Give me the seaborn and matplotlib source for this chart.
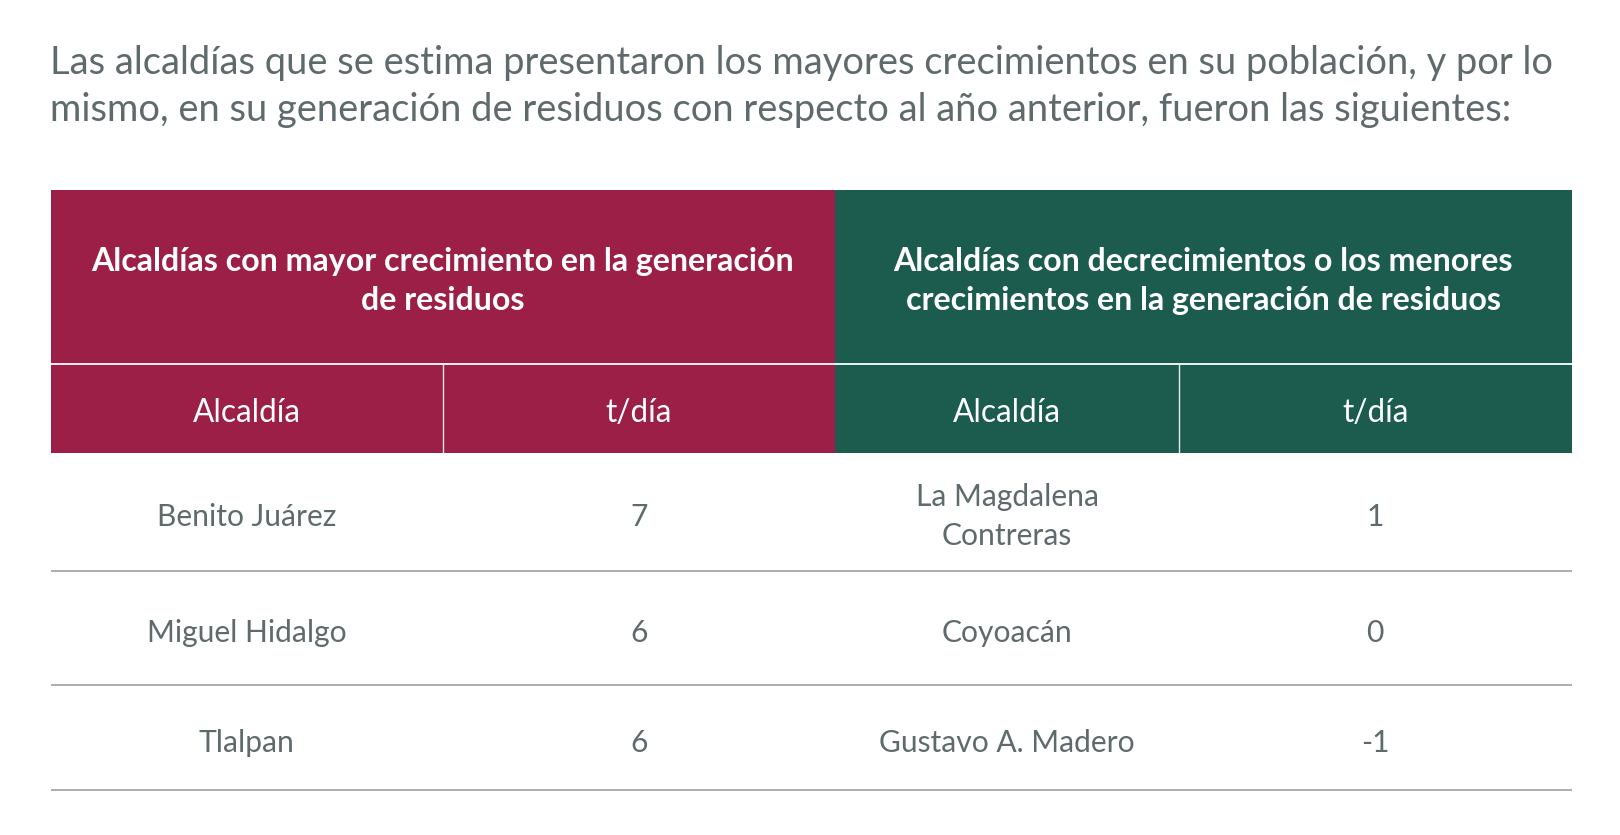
import matplotlib
matplotlib.use("Agg")
import matplotlib.pyplot as plt
from matplotlib.patches import Rectangle
import seaborn as sns

# ---------------- data ----------------
title_lines = [
    "Las alcaldías que se estima presentaron los mayores crecimientos en su población, y por lo",
    "mismo, en su generación de residuos con respecto al año anterior, fueron las siguientes:",
]
group_headers = [
    "Alcaldías con mayor crecimiento en la generación\nde residuos",
    "Alcaldías con decrecimientos o los menores\ncrecimientos en la generación de residuos",
]
col_headers = ["Alcaldía", "t/día", "Alcaldía", "t/día"]
mayor_alcaldias = ["Benito Juárez", "Miguel Hidalgo", "Tlalpan"]
mayor_t = [7, 6, 6]
menor_alcaldias = ["La Magdalena\nContreras", "Coyoacán", "Gustavo A. Madero"]
menor_t = [1, 0, -1]

# ---------------- style ----------------
sns.set_theme(style="white")
FONT = "Lato"
plt.rcParams["font.family"] = [FONT, "DejaVu Sans"]

MAROON = "#9B1F46"
GREEN = "#1B5C4F"
TEXT = "#5F6A6C"
LINE = "#A3A7A8"

W, H = 1620, 835
fig = plt.figure(figsize=(W / 100, H / 100), dpi=100)
ax = fig.add_axes([0, 0, 1, 1])
ax.set_xlim(0, W)
ax.set_ylim(H, 0)
ax.axis("off")

renderer = fig.canvas.get_renderer()


def fit(text, target, weight="normal"):
    t = ax.text(0, 0, text, fontsize=20, weight=weight)
    w = t.get_window_extent(renderer).width
    t.remove()
    return 20 * target / w


# layout (pixels)
x0, xm, x1 = 50.5, 835, 1571.5
xcols = [x0, 443, xm, 1179, x1]
y_top, y_h1, y_h2 = 190, 364, 452.5
row_bottoms = [571, 685, 790]
DY = 3
row_centers = [513.5 + DY, 630 + DY, 740 + DY]

title_fs = fit(title_lines[0], 1506)
head_fs = fit(group_headers[0].split("\n")[0], 702, weight="bold")
sub_fs = fit("Alcaldía", 108)
body_fs = fit("Gustavo A. Madero", 256)

# title
for yy, line in zip([60 + DY, 106.5 + DY], title_lines):
    ax.text(x0, yy, line, fontsize=title_fs, color=TEXT, ha="left", va="center")

# header backgrounds
ax.add_patch(Rectangle((x0, y_top), xm - x0, y_h2 - y_top, color=MAROON, lw=0))
ax.add_patch(Rectangle((xm, y_top), x1 - xm, y_h2 - y_top, color=GREEN, lw=0))
ax.hlines(y_h1, x0, x1, color="white", lw=1.3)
for xc in [xcols[1], xcols[3]]:
    ax.vlines(xc, y_h1, y_h2, color="#E8E8E8", lw=1.0)

# group headers
for (a, b), txt in zip([(x0, xm), (xm, x1)], group_headers):
    ax.text((a + b) / 2, 278 + DY, txt, fontsize=head_fs, color="white",
            weight="bold", ha="center", va="center", linespacing=1.45)

# column headers
for i, txt in enumerate(col_headers):
    cx = (xcols[i] + xcols[i + 1]) / 2
    ax.text(cx, 410 + DY, txt, fontsize=sub_fs, color="white", ha="center", va="center")

# body rows
for r in range(len(mayor_alcaldias)):
    vals = [mayor_alcaldias[r], str(mayor_t[r]), menor_alcaldias[r], str(menor_t[r])]
    for i, txt in enumerate(vals):
        cx = (xcols[i] + xcols[i + 1]) / 2
        ax.text(cx, row_centers[r], txt, fontsize=body_fs, color=TEXT,
                ha="center", va="center", linespacing=1.45)
    ax.hlines(row_bottoms[r], x0, x1, color=LINE, lw=1.3)

fig.savefig("out.png", dpi=100, facecolor="white")
